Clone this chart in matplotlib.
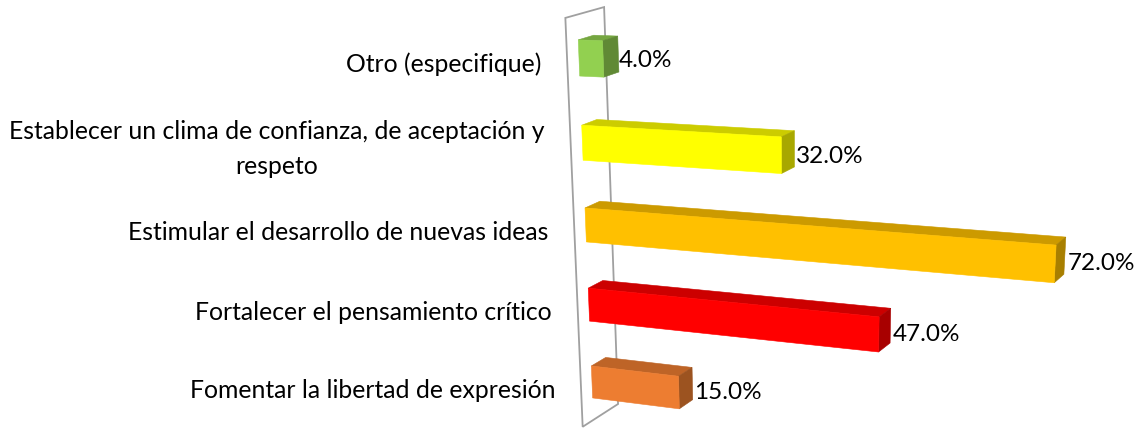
import matplotlib.pyplot as plt
from matplotlib.patches import Polygon
from matplotlib.colors import to_rgb

categories = ['Otro (especifique)',
              'Establecer un clima de confianza, de aceptación y\nrespeto',
              'Estimular el desarrollo de nuevas ideas',
              'Fortalecer el pensamiento crítico',
              'Fomentar la libertad de expresión']
values = [4.0, 32.0, 72.0, 47.0, 15.0]
colors = ['#92D050', '#FFFF00', '#FFC000', '#FF0000', '#ED7D31']

plt.rcParams['font.family'] = ['Lato', 'DejaVu Sans']

# perspective camera used by the 3-D style chart (x = value %, r = row, z = depth)
CX, CY = 570, 216
BAR_HALF = 0.21
BAR_DEPTH = 1.6
WALL_Z = (-1.2, 2.8)


def proj(val, r, z):
    u = val / 100.0
    q = 1 - 0.15 * u + 0.0159 * r + 0.00854 * z
    x = CX + (9 + 600 * u + 3.6 * r + 9.8 * z) / q
    y = CY + (-158 + 48.7 * u + 83.64 * r - 4.44 * z) / q
    return x, y


def shade(c, f):
    return tuple(ch * f for ch in to_rgb(c))


fig = plt.figure(figsize=(11.4, 4.32), dpi=100)
ax = fig.add_axes([0, 0, 1, 1])
ax.set_xlim(0, 1140)
ax.set_ylim(432, 0)
ax.axis('off')

# side wall
n = len(categories)
r0, r1 = -0.5, n - 0.5
z0, z1 = WALL_Z
wall = [proj(0, r0, z0), proj(0, r0, z1), proj(0, r1, z1), proj(0, r1, z0)]
ax.add_patch(Polygon(wall, closed=True, facecolor='white',
                     edgecolor='#a0a0a0', linewidth=1.3, zorder=1))

for i, (cat, v, c) in enumerate(zip(categories, values, colors)):
    top, bot = i - BAR_HALF, i + BAR_HALF
    front = [proj(0, top, 0), proj(v, top, 0), proj(v, bot, 0), proj(0, bot, 0)]
    lid = [proj(0, top, 0), proj(v, top, 0), proj(v, top, BAR_DEPTH), proj(0, top, BAR_DEPTH)]
    side = [proj(v, top, 0), proj(v, bot, 0), proj(v, bot, BAR_DEPTH), proj(v, top, BAR_DEPTH)]
    for poly, f in ((lid, 0.80), (side, 0.66), (front, 1.0)):
        col = shade(c, f)
        ax.add_patch(Polygon(poly, closed=True, facecolor=col, edgecolor=col,
                             linewidth=0.4, zorder=2))

    # value label at the bar end
    lx, ly = proj(v, i, BAR_DEPTH / 2)
    ax.annotate(f'{v:.1f}%', (lx, ly), xytext=(8, -4), textcoords='offset pixels',
                ha='left', va='center', fontsize=17.5, color='black', zorder=3)

    # category label in front of the wall
    cx, cy = proj(0, i, z0)
    ax.annotate(cat, (cx, cy), xytext=(-26, -2), textcoords='offset pixels',
                ha='right', va='center', multialignment='center',
                fontsize=17.8, color='black', linespacing=1.62, zorder=3)

fig.savefig('out.png', dpi=100)
